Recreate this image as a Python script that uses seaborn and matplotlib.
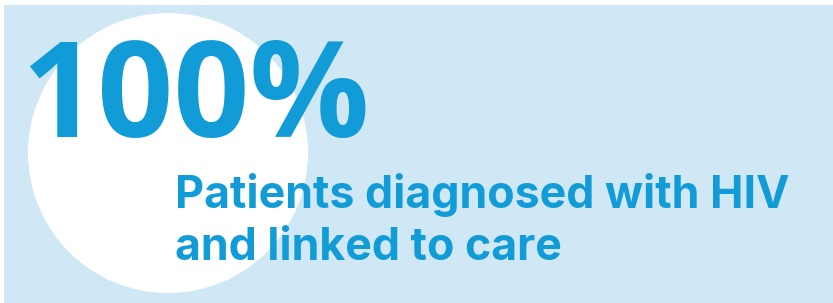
import matplotlib
matplotlib.use("Agg")
import matplotlib.pyplot as plt
import matplotlib.patches as mpatches
import seaborn as sns

# stat card content
STAT_VALUE = "100%"
LABEL_LINES = ["Patients diagnosed with HIV", "and linked to care"]

BG_COLOR = "#D0E8F5"
TEXT_COLOR = "#129CD7"

W, H = 833, 303

sns.set_theme(style="white")

fig = plt.figure(figsize=(W / 100, H / 100), dpi=100)
fig.patch.set_facecolor("white")
ax = fig.add_axes([0, 0, 1, 1])
ax.set_xlim(0, W)
ax.set_ylim(H, 0)
ax.axis("off")

# card background + white circle
ax.add_patch(mpatches.Rectangle((4, 5), W - 4, H - 5, facecolor=BG_COLOR, edgecolor="none"))
ax.add_patch(mpatches.Circle((168, 153), 140, facecolor="white", edgecolor="none"))

ax.text(21, 137, STAT_VALUE, color=TEXT_COLOR, fontsize=96, fontweight="bold",
        family=["Open Sans", "DejaVu Sans"], ha="left", va="baseline")

baselines = [208, 260]
for line, y in zip(LABEL_LINES, baselines):
    ax.text(175, y, line, color=TEXT_COLOR, fontsize=32.2, fontweight="bold",
            family=["Inter", "DejaVu Sans"], ha="left", va="baseline")

fig.savefig("out.png", dpi=100, facecolor=fig.get_facecolor())
